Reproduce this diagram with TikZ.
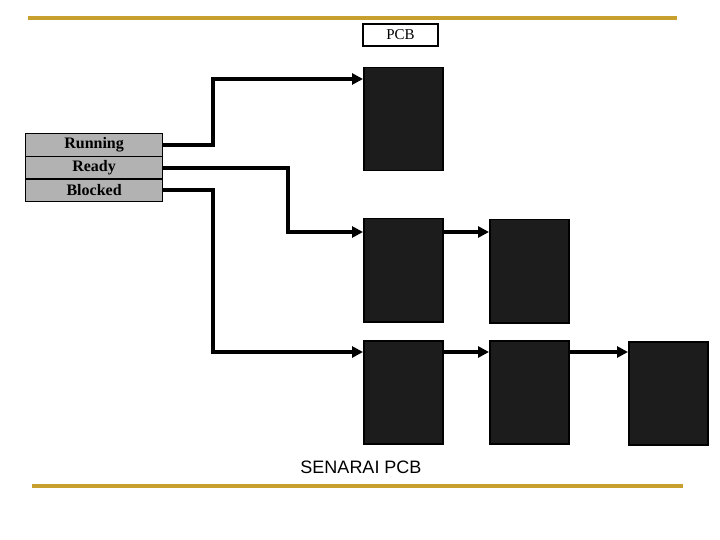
\documentclass[tikz,border=0pt]{standalone}
\usepackage{fontspec}
\setmainfont{Liberation Serif}
\setsansfont{Liberation Sans}
\usepackage{tikz}
\usetikzlibrary{arrows.meta,positioning}
\definecolor{goldrule}{RGB}{200,160,45}
\definecolor{stategray}{RGB}{178,178,178}
\definecolor{pcbdark}{RGB}{28,28,28}

\begin{document}
\begin{tikzpicture}[x=1pt, y=-1pt,
  rule/.style={draw=goldrule, line width=3.5pt},
  state/.style={draw=black, line width=1.2pt, fill=stategray, anchor=north west,
    minimum width=137pt, minimum height=22.7pt, inner sep=0pt,
    font=\fontsize{16}{18}\selectfont\bfseries},
  pcb/.style={draw=black, line width=1.5pt, fill=pcbdark, anchor=north west,
    minimum width=79pt, minimum height=103pt, inner sep=0pt},
  link/.style={line width=3.8pt, -{Triangle[length=11pt,width=11pt]}},
]
\useasboundingbox (0,0) rectangle (720,540);

% Rules
\draw[rule] (28,18) -- (677,18);
\draw[rule] (32,486) -- (683,486);

% Title
\node[draw=black, line width=1.2pt, minimum width=75pt, minimum height=22pt,
  inner sep=0pt, font=\fontsize{15}{17}\selectfont] (title) at (400.5,35) {PCB};

% States
\node[state] (run) at (25,133) {Running};
\node[state] (rdy) at (25,155.7) {Ready};
\node[state] (blk) at (25,178.4) {Blocked};

% PCBs
\node[pcb] (p1) at (363,67) {};
\node[pcb] (q1) at (363,218) {};
\node[pcb] (q2) at (489,219) {};
\node[pcb] (r1) at (363,340) {};
\node[pcb] (r2) at (489,340) {};
\node[pcb] (r3) at (628,341) {};

% Links
\draw[link] (run.east) -- ++(50,0) |- ([yshift=-12pt]p1.north west);
\draw[link] (rdy.east) -- ++(125,0) |- ([yshift=-14pt]q1.north west);
\draw[link] (blk.east) -- ++(50,0) |- ([yshift=-12pt]r1.north west);
\draw[link] ([yshift=-14pt]q1.north east) -- ([yshift=-13pt]q2.north west);
\draw[link] ([yshift=-12pt]r1.north east) -- ([yshift=-12pt]r2.north west);
\draw[link] ([yshift=-12pt]r2.north east) -- ([yshift=-11pt]r3.north west);

% Caption
\node[font=\sffamily\fontsize{18}{20}\selectfont] (cap) at (361,467) {SENARAI PCB};
\end{tikzpicture}
\end{document}
